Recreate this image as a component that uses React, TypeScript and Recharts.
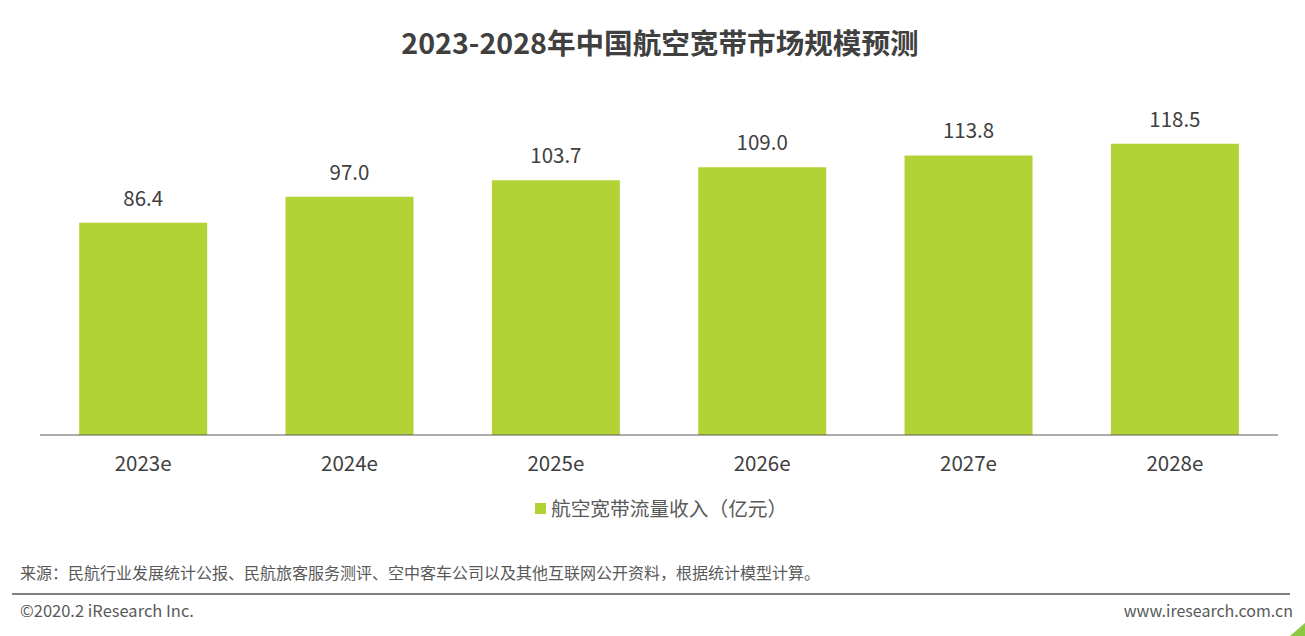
import { BarChart, Bar, XAxis, YAxis, LabelList } from "recharts";

const years = ["2023e", "2024e", "2025e", "2026e", "2027e", "2028e"];
const revenue = [86.4, 97.0, 103.7, 109.0, 113.8, 118.5];
const seriesName = "航空宽带流量收入（亿元）";

const barColor = "#B2D235";
const textDark = "#404040";
const textGray = "#595959";
const cjkFont = '"Noto Sans CJK SC", "Noto Sans", sans-serif';

export default function App() {
  const data = years.map((year, i) => ({ year, value: revenue[i] }));

  return (
    <div
      style={{
        position: "absolute",
        left: 0,
        top: 0,
        width: 1305,
        height: 636,
        background: "#FFFFFF",
        overflow: "hidden",
        fontFamily: cjkFont,
      }}
    >
      <div
        style={{
          position: "absolute",
          top: 22,
          left: 0,
          width: 1320,
          textAlign: "center",
          fontSize: 28.6,
          fontWeight: 700,
          color: textDark,
          lineHeight: "40px",
        }}
      >
        2023-2028年中国航空宽带市场规模预测
      </div>

      <div style={{ position: "absolute", left: 0, top: 0 }}>
        <BarChart
          width={1305}
          height={480}
          data={data}
          margin={{ top: 91, right: 27, left: 40, bottom: 15 }}
          barCategoryGap="19%"
        >
          <XAxis
            dataKey="year"
            axisLine={{ stroke: "#595959", strokeWidth: 1 }}
            tickLine={false}
            tickMargin={15}
            height={30}
            tick={{ fill: textDark, fontSize: 20.5, fontFamily: cjkFont }}
          />
          <YAxis hide domain={[0, 140]} />
          <Bar dataKey="value" fill={barColor} isAnimationActive={false}>
            <LabelList
              dataKey="value"
              position="top"
              offset={17}
              formatter={(v: any) => Number(v).toFixed(1)}
              style={{ fill: textDark, fontSize: 20.5, fontFamily: cjkFont }}
            />
          </Bar>
        </BarChart>
      </div>

      <div
        style={{
          position: "absolute",
          top: 494,
          left: 535,
          display: "flex",
          alignItems: "center",
          fontSize: 19.7,
          color: textGray,
          lineHeight: "28px",
        }}
      >
        <span
          style={{
            display: "inline-block",
            width: 11,
            height: 11,
            background: barColor,
            marginRight: 5,
          }}
        />
        {seriesName}
      </div>

      <div
        style={{
          position: "absolute",
          top: 561,
          left: 20,
          fontSize: 16,
          color: textGray,
          lineHeight: "22px",
          whiteSpace: "nowrap",
        }}
      >
        来源：民航行业发展统计公报、民航旅客服务测评、空中客车公司以及其他互联网公开资料，根据统计模型计算。
      </div>

      <div
        style={{
          position: "absolute",
          top: 593,
          left: 12,
          width: 1278,
          height: 2,
          background: "#7F7F7F",
        }}
      />

      <div
        style={{
          position: "absolute",
          top: 599,
          left: 20,
          fontSize: 16.5,
          color: textGray,
          lineHeight: "22px",
        }}
      >
        ©2020.2 iResearch Inc.
      </div>

      <div
        style={{
          position: "absolute",
          top: 599,
          right: 12,
          fontSize: 16,
          color: textGray,
          lineHeight: "22px",
        }}
      >
        www.iresearch.com.cn
      </div>

      <div
        style={{
          position: "absolute",
          right: 0,
          bottom: 0,
          width: 0,
          height: 0,
          borderLeft: "15px solid transparent",
          borderBottom: "13px solid #8DC63F",
        }}
      />
    </div>
  );
}
